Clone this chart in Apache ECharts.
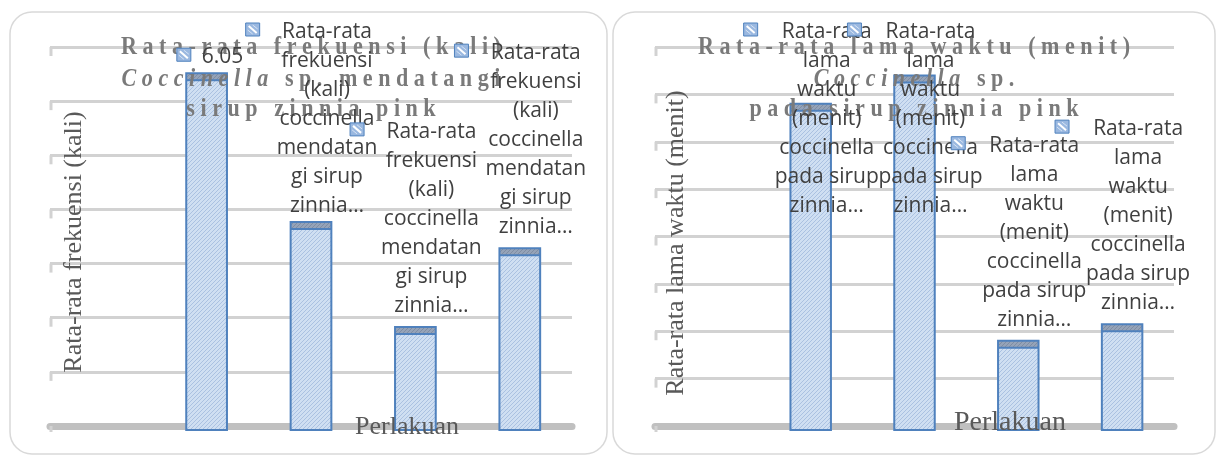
<!DOCTYPE html>
<html>
<head>
<meta charset="utf-8">
<script src="https://cdn.jsdelivr.net/npm/echarts@6/dist/echarts.min.js"></script>
<style>
  html, body { margin: 0; padding: 0; background: #ffffff; }
  #main { width: 1222px; height: 459px; }
</style>
</head>
<body>
<div id="main"></div>
<script>
// ---- data ----
const categories = ['', 'P1', 'P2', 'P3', 'P4'];
const freqValues = [null, 6.05, 3.5, 1.7, 3.05];          // Rata-rata frekuensi (kali)
const durationValues = [null, 6.8, 7.4, 1.8, 2.15];       // Rata-rata lama waktu (menit)
const freqShowValue = [false, true, false, false, false]; // which bar labels print the value
const durationShowValue = [false, false, false, false, false];
const freqLabelLines = ['Rata-rata', 'frekuensi', '(kali)', 'coccinella', 'mendatan', 'gi sirup', 'zinnia…'];
const durationLabelLines = ['Rata-rata', 'lama', 'waktu', '(menit)', 'coccinella', 'pada sirup', 'zinnia…'];
const freqTitle = [
  [['Rata-rata frekuensi (kali)', false]],
  [['Coccinella', true], [' sp. mendatangi', false]],
  [['sirup zinnia pink', false]]
];
const durationTitle = [
  [['Rata-rata lama waktu (menit)', false]],
  [['Coccinella', true], [' sp.', false]],
  [['pada sirup zinnia pink', false]]
];
const freqAxisName = 'Rata-rata frekuensi (kali)';
const durationAxisName = 'Rata-rata lama waktu (menit)';
const xAxisName = 'Perlakuan';

// ---- fill patterns ----
function hatch(size, bg, line) {
  const c = document.createElement('canvas');
  c.width = size; c.height = size;
  const g = c.getContext('2d');
  g.fillStyle = bg; g.fillRect(0, 0, size, size);
  g.strokeStyle = line; g.lineWidth = 1;
  g.beginPath();
  g.moveTo(0, size); g.lineTo(size, 0);
  g.moveTo(-size / 2, size / 2); g.lineTo(size / 2, -size / 2);
  g.moveTo(size / 2, size * 1.5); g.lineTo(size * 1.5, size / 2);
  g.stroke();
  return { image: c, repeat: 'repeat' };
}
const barFill = hatch(4, '#cfdff2', '#aac1e1');
const capFill = hatch(4, '#95a3b8', '#7f8da3');

const BAR_BLUE = '#4f81bd';
const LABEL_FONT = '21px "Open Sans"';
const LINE_H = 29;

const measureCtx = document.createElement('canvas').getContext('2d');
function textWidth(t, font) { measureCtx.font = font; return measureCtx.measureText(t).width; }

// bar with darker top cap
function renderBar(params, api) {
  const v = api.value(1);
  if (v == null || isNaN(v)) return;
  const top = api.coord([api.value(0), v]);
  const base = api.coord([api.value(0), 0]);
  const w = api.size([1, 0])[0] * 0.39;
  const x = top[0] - w / 2;
  const h = base[1] - top[1] + 4;
  const cap = 7;
  return {
    type: 'group',
    children: [
      { type: 'rect', shape: { x: x, y: top[1], width: w, height: h }, style: { fill: barFill, stroke: null } },
      { type: 'rect', shape: { x: x, y: top[1], width: w, height: cap }, style: { fill: capFill, stroke: null } },
      { type: 'line', shape: { x1: x, y1: top[1] + cap, x2: x + w, y2: top[1] + cap }, style: { stroke: BAR_BLUE, lineWidth: 2 } },
      { type: 'rect', shape: { x: x, y: top[1], width: w, height: h }, style: { fill: null, stroke: BAR_BLUE, lineWidth: 2 } }
    ]
  };
}

// data label: legend key + wrapped text above the bar
function makeLabelRenderer(nameLines, showValue) {
  return function (params, api) {
    const v = api.value(1);
    if (v == null || isNaN(v)) return;
    const idx = params.dataIndex;
    const top = api.coord([api.value(0), v]);
    const cx = top[0];
    const lines = showValue[idx] ? [String(v)] : nameLines;
    const n = lines.length;
    const lastCenter = top[1] - (n > 1 ? 21 : 16);
    const firstCenter = Math.max(lastCenter - (n - 1) * LINE_H, 32);
    const textCx = cx + 16;
    const maxW = Math.max.apply(null, lines.map(function (l) { return textWidth(l, LABEL_FONT); }));
    const kx = textCx - maxW / 2 - (n > 1 ? 17 : 11) - 14;
    const ky = firstCenter - 9;
    return {
      type: 'group',
      children: [
        { type: 'text', x: textCx, y: firstCenter - LINE_H / 2,
          style: { text: lines.join('\n'), font: LABEL_FONT, fill: '#404040', align: 'center', verticalAlign: 'top', lineHeight: LINE_H } },
        { type: 'rect', shape: { x: kx, y: ky, width: 14, height: 13 },
          style: { fill: '#9ab8e0', stroke: BAR_BLUE, lineWidth: 1 } },
        { type: 'line', shape: { x1: kx + 3, y1: ky + 3, x2: kx + 11, y2: ky + 10 },
          style: { stroke: '#ffffff', lineWidth: 2 } },
        { type: 'line', shape: { x1: kx + 7, y1: ky + 2, x2: kx + 12, y2: ky + 6 },
          style: { stroke: '#d6e3f4', lineWidth: 1 } },
        { type: 'line', shape: { x1: kx + 2, y1: ky + 7, x2: kx + 7, y2: ky + 11 },
          style: { stroke: '#d6e3f4', lineWidth: 1 } }
      ]
    };
  };
}

// letter-spaced title lines
function spaced(s) {
  return s.split(' ').map(function (w) { return w.split('').join(' '); }).join('   ');
}
function titleElements(lines, cx, ys, idPrefix) {
  return lines.map(function (segs, i) {
    let txt = '';
    segs.forEach(function (s) { txt += '{' + (s[1] ? 'it' : 'rg') + '|' + spaced(s[0]) + '}'; });
    return {
      type: 'text', id: idPrefix + i, x: cx, y: ys[i], scaleX: 0.85, z: 3,
      style: {
        text: txt, align: 'center', verticalAlign: 'middle',
        rich: {
          rg: { font: 'bold 26px "Liberation Serif"', fill: '#7a7a7a' },
          it: { font: 'italic bold 26px "Liberation Serif"', fill: '#7a7a7a' }
        }
      }
    };
  });
}

const grids = [
  { left: 50, top: 47, width: 522, height: 379 },
  { left: 655, top: 47, width: 519, height: 379 }
];

const baseGraphic = [
  { type: 'rect', id: 'panelL', z: 0, shape: { x: 10, y: 12, width: 597, height: 442, r: 22 }, style: { fill: null, stroke: '#d9d9d9', lineWidth: 1.5 } },
  { type: 'rect', id: 'panelR', z: 0, shape: { x: 613, y: 12, width: 602, height: 442, r: 22 }, style: { fill: null, stroke: '#d9d9d9', lineWidth: 1.5 } },
  { type: 'text', id: 'yNameL', x: 74, y: 242, rotation: Math.PI / 2, z: 3,
    style: { text: freqAxisName, font: '26px "Liberation Serif"', fill: '#595959', align: 'center', verticalAlign: 'middle' } },
  { type: 'text', id: 'yNameR', x: 676, y: 243, rotation: Math.PI / 2, z: 3,
    style: { text: durationAxisName, font: '26px "Liberation Serif"', fill: '#595959', align: 'center', verticalAlign: 'middle' } },
  { type: 'text', id: 'xNameL', x: 407, y: 427, z: 3,
    style: { text: xAxisName, font: '26px "Liberation Serif"', fill: '#595959', align: 'center', verticalAlign: 'middle' } },
  { type: 'text', id: 'xNameR', x: 1010, y: 423, z: 3,
    style: { text: xAxisName, font: '28px "Liberation Serif"', fill: '#595959', align: 'center', verticalAlign: 'middle' } }
].concat(titleElements(freqTitle, 311, [47, 79, 109], 'tL'))
 .concat(titleElements(durationTitle, 914, [47, 79, 109], 'tR'));

function yAxisCfg(gridIndex, max, interval) {
  return {
    gridIndex: gridIndex, type: 'value', min: 0, max: max, interval: interval,
    axisLine: { show: false }, axisTick: { show: false }, axisLabel: { show: false },
    splitLine: { show: true, lineStyle: { color: '#d2d2d2', width: 3 } }
  };
}
function xAxisCfg(gridIndex) {
  return {
    gridIndex: gridIndex, type: 'category', data: categories,
    axisLine: { show: true, lineStyle: { color: '#c0c0c0', width: 7 } },
    axisTick: { show: false }, axisLabel: { show: false }, splitLine: { show: false }
  };
}

const FREQ_MAX = 6.5, FREQ_STEP = 6.5 / 7;
const DUR_MAX = 8, DUR_STEP = 1;

const chart = echarts.init(document.getElementById('main'), null, { renderer: 'canvas' });
chart.setOption({
  backgroundColor: '#ffffff',
  animation: false,
  grid: grids,
  xAxis: [xAxisCfg(0), xAxisCfg(1)],
  yAxis: [yAxisCfg(0, FREQ_MAX, FREQ_STEP), yAxisCfg(1, DUR_MAX, DUR_STEP)],
  graphic: { elements: baseGraphic },
  series: [
    { type: 'custom', name: 'frekuensi', xAxisIndex: 0, yAxisIndex: 0, z: 2, renderItem: renderBar,
      data: freqValues.map(function (v, i) { return [i, v]; }) },
    { type: 'custom', name: 'lama waktu', xAxisIndex: 1, yAxisIndex: 1, z: 2, renderItem: renderBar,
      data: durationValues.map(function (v, i) { return [i, v]; }) },
    { type: 'custom', name: 'label frekuensi', xAxisIndex: 0, yAxisIndex: 0, z: 5,
      renderItem: makeLabelRenderer(freqLabelLines, freqShowValue),
      data: freqValues.map(function (v, i) { return [i, v]; }) },
    { type: 'custom', name: 'label lama waktu', xAxisIndex: 1, yAxisIndex: 1, z: 5,
      renderItem: makeLabelRenderer(durationLabelLines, durationShowValue),
      data: durationValues.map(function (v, i) { return [i, v]; }) }
  ]
});

// short side-wall stubs at the left end of each gridline
const stubs = [];
[[0, FREQ_MAX, FREQ_STEP], [1, DUR_MAX, DUR_STEP]].forEach(function (a) {
  const gi = a[0];
  const steps = Math.round(a[1] / a[2]);
  for (let k = 0; k <= steps; k++) {
    const p = chart.convertToPixel({ xAxisIndex: gi, yAxisIndex: gi }, [0, k * a[2]]);
    const x = grids[gi].left + 1;
    stubs.push({ type: 'line', id: 'stub' + gi + '_' + k, z: 1,
      shape: { x1: x, y1: p[1], x2: x, y2: p[1] + (k === 0 ? 6 : 9) },
      style: { stroke: '#d2d2d2', lineWidth: 3 } });
  }
});
chart.setOption({ graphic: { elements: baseGraphic.concat(stubs) } });
</script>
</body>
</html>
